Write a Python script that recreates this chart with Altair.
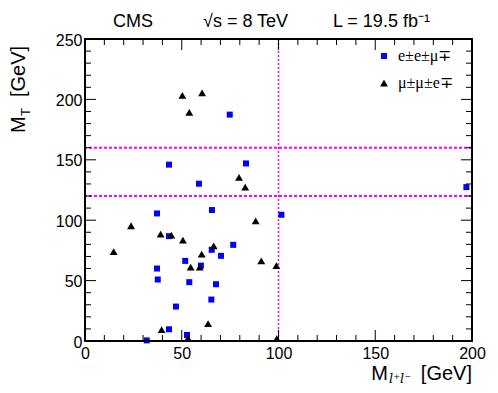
import altair as alt
import pandas as pd

# ---- data ----
ee_mu_x = [43.4, 74.8, 83.2, 58.9, 37.2, 65.6, 43.4, 76.6, 65.5, 70.3, 51.8, 59.9,
           37.2, 37.6, 53.9, 67.7, 65.3, 47.0, 43.4, 52.7, 31.9, 101.5, 197.1]
ee_mu_y = [146.0, 187.4, 147.0, 130.2, 105.6, 108.4, 86.8, 79.6, 75.5, 70.5, 66.3, 62.4,
           60.0, 50.9, 48.7, 47.0, 34.3, 28.5, 9.7, 5.0, 0.5, 104.5, 127.4]
mumu_e_x = [50.3, 60.5, 53.9, 79.6, 82.8, 88.2, 23.8, 39.1, 44.6, 50.6, 66.5, 60.3,
            14.8, 91.1, 54.6, 59.3, 98.9, 63.6, 39.6, 53.2, 99.1]
mumu_e_y = [203.4, 205.4, 189.3, 135.4, 127.4, 99.5, 95.4, 88.5, 87.6, 83.5, 78.8, 71.9,
            74.0, 66.3, 61.1, 61.1, 62.4, 14.4, 9.4, 2.5, 1.9]
series_labels = ["e\u00b1e\u00b1\u03bc\u2213", "\u03bc\u00b1\u03bc\u00b1e\u2213"]
hlines = [120, 160]
vlines = [100]
x_major = [0, 50, 100, 150, 200]
x_minor = [v for v in range(10, 200, 10) if v % 50 != 0]
y_major = [0, 50, 100, 150, 200, 250]
y_minor = [v for v in range(10, 250, 10) if v % 50 != 0]

W, H = 387, 302
MAJ, MIN = 11, 6

df = pd.DataFrame({
    "m_ll": ee_mu_x + mumu_e_x,
    "mt": ee_mu_y + mumu_e_y,
    "series": [series_labels[0]] * len(ee_mu_x) + [series_labels[1]] * len(mumu_e_x),
})

xs = alt.Scale(domain=[0, 200], nice=False, zero=False)
ys = alt.Scale(domain=[0, 250], nice=False, zero=False)

xaxis = alt.Axis(values=x_major, ticks=False, tickSize=0, domain=False, grid=False,
                 labelFontSize=16, labelFont="Liberation Sans", labelColor="black",
                 labelPadding=4, labelFlush=False, labelOverlap=False, title=None)
yaxis = alt.Axis(values=y_major, ticks=False, tickSize=0, domain=False, grid=False,
                 labelFontSize=16, labelFont="Liberation Sans", labelColor="black",
                 labelPadding=3, labelOffset=1, labelFlush=False, labelOverlap=False, title=None)

legend = alt.Legend(orient="none", legendX=291, legendY=9, title=None,
                    labelFont="Liberation Serif", labelFontSize=16, labelColor="black",
                    symbolSize=40, symbolStrokeWidth=0, labelOffset=6, rowPadding=11,
                    padding=0)

points = alt.Chart(df).mark_point(filled=True, opacity=1).encode(
    x=alt.X("m_ll:Q", scale=xs, axis=xaxis),
    y=alt.Y("mt:Q", scale=ys, axis=yaxis),
    color=alt.Color("series:N", scale=alt.Scale(domain=series_labels, range=["#0000ff", "#000000"]),
                    legend=legend),
    shape=alt.Shape("series:N", scale=alt.Scale(domain=series_labels, range=["square", "triangle-up"]),
                    legend=legend),
    size=alt.Size("series:N", scale=alt.Scale(domain=series_labels, range=[36, 62]), legend=None),
)

hl = alt.Chart(pd.DataFrame({"v": hlines})).mark_rule(
    color="#ff00ff", strokeWidth=2, strokeDash=[3, 2]).encode(y=alt.Y("v:Q", scale=ys, axis=yaxis))
vl = alt.Chart(pd.DataFrame({"v": vlines})).mark_rule(
    color="#ff00ff", strokeWidth=1.5, strokeDash=[2, 2]).encode(x=alt.X("v:Q", scale=xs, axis=xaxis))


def xticks(vals, length, top):
    c = alt.Chart(pd.DataFrame({"t": vals})).mark_rule(color="black", strokeWidth=1)
    if top:
        return c.encode(x=alt.X("t:Q", scale=xs, axis=xaxis), y=alt.value(0), y2=alt.value(length))
    return c.encode(x=alt.X("t:Q", scale=xs, axis=xaxis), y=alt.value(H), y2=alt.value(H - length))


def yticks(vals, length, right):
    c = alt.Chart(pd.DataFrame({"t": vals})).mark_rule(color="black", strokeWidth=1)
    if right:
        return c.encode(y=alt.Y("t:Q", scale=ys, axis=yaxis), x=alt.value(W), x2=alt.value(W - length))
    return c.encode(y=alt.Y("t:Q", scale=ys, axis=yaxis), x=alt.value(0), x2=alt.value(length))


ticks = [xticks(x_major, MAJ, False), xticks(x_minor, MIN, False),
         xticks(x_major, MAJ, True), xticks(x_minor, MIN, True),
         yticks(y_major, MAJ, False), yticks(y_minor, MIN, False),
         yticks(y_major, MAJ, True), yticks(y_minor, MIN, True)]


def txt(text, x, y, size, align="left", angle=0, font="Liberation Sans", style="normal"):
    return alt.Chart(pd.DataFrame({"s": [text]})).mark_text(
        align=align, baseline="alphabetic", fontSize=size, font=font, angle=angle,
        fontStyle=style, color="black").encode(text="s:N", x=alt.value(x), y=alt.value(y))


texts = [
    txt("CMS", 28, -12, 18),
    txt("\u221as = 8 TeV", 118, -12, 18),
    txt("L = 19.5 fb\u207b\u00b9", 248, -12, 18),
    txt("[GeV]", W, 341, 20, align="right"),
    txt("l\u207al\u207b", 304, 344, 13, font="DejaVu Serif", style="italic"),
    txt("M", 303, 341, 20, align="right"),
    txt("M", -60, 94, 20, angle=270),
    txt("T", -55, 77, 13, angle=270),
    txt("[GeV]", -60, 58, 20, angle=270),
]

frame = alt.Chart(pd.DataFrame({"f": [0]})).mark_rect(
    fill=None, fillOpacity=0, stroke="black", strokeWidth=2).encode(
    x=alt.value(0), x2=alt.value(W), y=alt.value(0), y2=alt.value(H))

chart = alt.layer(hl, vl, *ticks, points, frame, *texts).properties(
    width=W, height=H,
    autosize=alt.AutoSizeParams(type="none"),
    padding={"left": 77, "top": 31, "right": 18, "bottom": 44},
).configure_view(stroke=None).configure(background="white")

chart.save("out.html", embed_options={"renderer": "svg", "actions": False})
